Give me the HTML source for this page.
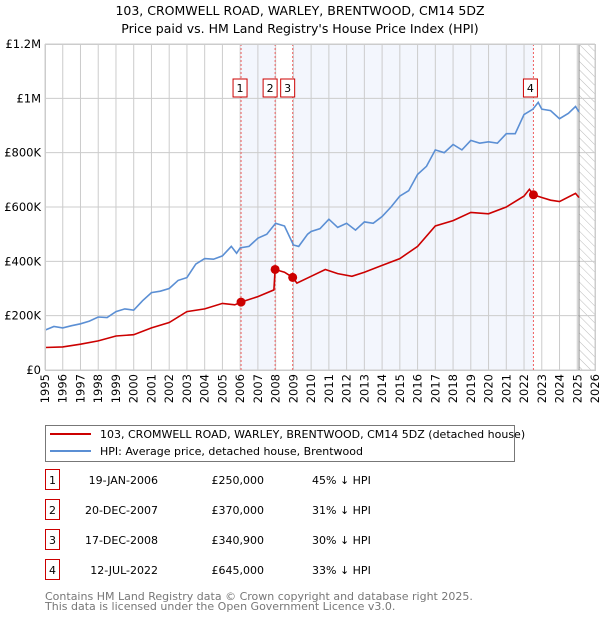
<!DOCTYPE html>
<html><head><meta charset="utf-8"><style>
body{margin:0;background:#fff;font-family:"Liberation Sans","DejaVu Sans",sans-serif;position:relative;width:600px;height:620px;overflow:hidden;}
svg text{font-family:"DejaVu Sans","Liberation Sans",sans-serif;}
.xl{position:absolute;width:14px;line-height:14px;font-size:11.5px;font-family:"DejaVu Sans","Liberation Sans",sans-serif;writing-mode:vertical-rl;writing-mode:sideways-lr;white-space:nowrap;}
</style></head><body>
<svg id="c" width="600" height="620" xmlns="http://www.w3.org/2000/svg" style="position:absolute;left:0;top:0">
<defs><pattern id="hatch" width="6" height="6" patternUnits="userSpaceOnUse" patternTransform="rotate(-45)"><line x1="0" y1="0" x2="0" y2="6" stroke="#bbb" stroke-width="1"/></pattern></defs>
<text x="300" y="15" text-anchor="middle" font-size="12.5">103, CROMWELL ROAD, WARLEY, BRENTWOOD, CM14 5DZ</text>
<text x="300" y="33" text-anchor="middle" font-size="12.5">Price paid vs. HM Land Registry's House Price Index (HPI)</text>
<g id="plot"></g>
<g id="legend">
<rect x="45.5" y="425.5" width="469" height="36" fill="#fff" stroke="#777"/>
<line x1="50" y1="434" x2="91" y2="434" stroke="#cc0000" stroke-width="2"/>
<text x="100" y="438" font-size="11">103, CROMWELL ROAD, WARLEY, BRENTWOOD, CM14 5DZ (detached house)</text>
<line x1="50" y1="451" x2="91" y2="451" stroke="#5b8fd4" stroke-width="2"/>
<text x="100" y="455" font-size="11">HPI: Average price, detached house, Brentwood</text>
</g>
<g id="table"></g>
<text x="45" y="600" font-size="11" fill="#777">Contains HM Land Registry data © Crown copyright and database right 2025.</text>
<text x="45" y="610" font-size="11" fill="#777">This data is licensed under the Open Government Licence v3.0.</text>
</svg>
<div id="xlabels"></div>
<script>
const hpiDates=[1995.0,1995.5,1996.0,1996.5,1997.0,1997.5,1998.0,1998.5,1999.0,1999.5,2000.0,2000.5,2001.0,2001.5,2002.0,2002.5,2003.0,2003.5,2004.0,2004.5,2005.0,2005.5,2005.8,2006.0,2006.5,2007.0,2007.5,2008.0,2008.5,2009.0,2009.3,2009.8,2010.0,2010.5,2011.0,2011.5,2012.0,2012.5,2013.0,2013.5,2014.0,2014.5,2015.0,2015.5,2016.0,2016.5,2017.0,2017.5,2018.0,2018.5,2019.0,2019.5,2020.0,2020.5,2021.0,2021.5,2022.0,2022.5,2022.8,2023.0,2023.5,2024.0,2024.5,2024.9,2025.1];
const hpiValues=[147,160,155,163,170,180,195,193,215,225,220,255,285,290,300,330,340,390,410,408,420,455,430,450,455,485,500,540,530,460,455,500,510,520,555,525,540,515,545,540,565,600,640,660,720,750,810,800,830,810,845,835,840,835,870,870,940,960,985,960,955,925,945,970,950];
const priceDates=[1995.0,1996.0,1997.0,1998.0,1999.0,2000.0,2001.0,2002.0,2003.0,2004.0,2005.0,2005.7,2006.05,2007.0,2007.9,2007.97,2008.5,2008.96,2009.2,2010.0,2010.8,2011.5,2012.3,2013.0,2014.0,2015.0,2016.0,2017.0,2018.0,2019.0,2020.0,2021.0,2022.0,2022.3,2022.53,2023.0,2023.5,2024.0,2024.9,2025.1];
const priceValues=[83,85,95,107,125,130,155,175,215,225,245,240,250,270,295,370,360,341,320,345,370,355,345,360,385,410,455,530,550,580,575,600,640,665,645,635,625,620,650,635];
const saleDates=[2006.05,2007.97,2008.96,2022.53];
const saleValues=[250,370,340.9,645];
const saleLabels=["1","2","3","4"];
const saleDateText=["19-JAN-2006","20-DEC-2007","17-DEC-2008","12-JUL-2022"];
const salePriceText=["£250,000","£370,000","£340,900","£645,000"];
const saleHpiText=["45% ↓ HPI","31% ↓ HPI","30% ↓ HPI","33% ↓ HPI"];
const yTicks=[0,200,400,600,800,1000,1200];
const yTickLabels=["£0","£200K","£400K","£600K","£800K","£1M","£1.2M"];
const xYears=[1995,1996,1997,1998,1999,2000,2001,2002,2003,2004,2005,2006,2007,2008,2009,2010,2011,2012,2013,2014,2015,2016,2017,2018,2019,2020,2021,2022,2023,2024,2025,2026];

const X0=45,X1=595,Y0=370,Y1=44;
const xs=t=>X0+(t-1995)/31*(X1-X0);
const ys=v=>Y0-v/1200*(Y0-Y1);
const NS="http://www.w3.org/2000/svg";
function mk(tag,attrs,parent,txt){const e=document.createElementNS(NS,tag);for(const k in attrs)e.setAttribute(k,attrs[k]);if(txt!==undefined)e.textContent=txt;parent.appendChild(e);return e;}
const plot=document.getElementById('plot');
let sh=mk('rect',{x:xs(saleDates[0]),y:Y1,width:xs(saleDates[1])-xs(saleDates[0]),height:Y0-Y1,fill:'#f3f6fd'},plot);


let sh2=mk('rect',{x:xs(saleDates[2]),y:Y1,width:xs(saleDates[3])-xs(saleDates[2]),height:Y0-Y1,fill:'#f3f6fd'},plot);


let ht=mk('rect',{x:xs(2025.1),y:Y1,width:X1-xs(2025.1),height:Y0-Y1,fill:'url(#hatch)'},plot);


const xl=document.getElementById('xlabels');
xYears.forEach(y=>{const l=mk('line',{x1:xs(y),x2:xs(y),y1:Y1,y2:Y0,stroke:'#ccc'},plot);


const d=document.createElement('div');
d.className='xl';
d.style.left=(xs(y)-7)+'px';
d.style.top=(Y0+4)+'px';
d.textContent=String(y);


xl.appendChild(d);});
yTicks.forEach((v,i)=>{const l=mk('line',{x1:X0,x2:X1,y1:ys(v),y2:ys(v),stroke:'#ccc'},plot);


const tx=mk('text',{x:X0-4,y:ys(v)+4,'font-size':11.5,'text-anchor':'end'},plot,yTickLabels[i]);

});
const vl=mk('line',{x1:xs(2025.1),x2:xs(2025.1),y1:Y1,y2:Y0,stroke:'#888'},plot);


saleDates.forEach((d,i)=>{const l=mk('line',{x1:xs(d),x2:xs(d),y1:Y1,y2:Y0,stroke:'#f06060','stroke-dasharray':'2,2'},plot);

});
function path(ds,vs){return ds.map((d,i)=>(i?'L':'M')+xs(d).toFixed(1)+','+ys(vs[i]).toFixed(1)).join('');}
const hp=mk('path',{d:path(hpiDates,hpiValues),fill:'none',stroke:'#5b8fd4','stroke-width':1.6},plot);


const pp=mk('path',{d:path(priceDates,priceValues),fill:'none',stroke:'#cc0000','stroke-width':1.6},plot);


saleDates.forEach((d,i)=>{const c=mk('circle',{cx:xs(d),cy:ys(saleValues[i]),r:4.5,fill:'#cc0000'},plot);


const bx=xs(d)-(i==3?3:i==0?1:5);
const r=mk('rect',{x:bx-7,y:79,width:14,height:18,fill:'#fff',stroke:'#cc0000'},plot);


const t=mk('text',{x:bx,y:92,'font-size':11,'text-anchor':'middle'},plot,saleLabels[i]);

});
const pb=mk('rect',{x:X0+0.5,y:Y1+0.5,width:X1-X0,height:Y0-Y1,fill:'none',stroke:'#ccc'},plot);


const tb=document.getElementById('table');
saleLabels.forEach((s,i)=>{const y=483+i*30;
const r=mk('rect',{x:45.5,y:y-13.5,width:14,height:20,fill:'#fff',stroke:'#cc0000'},tb);


const a=mk('text',{x:52.5,y:y+1,'font-size':11,'text-anchor':'middle'},tb,s);


const b=mk('text',{x:158,y:y+1,'font-size':11,'text-anchor':'end'},tb,saleDateText[i]);


const c=mk('text',{x:264,y:y+1,'font-size':11,'text-anchor':'end'},tb,salePriceText[i]);


const e=mk('text',{x:312,y:y+1,'font-size':11},tb,saleHpiText[i]);

});
</script>
</body></html>
